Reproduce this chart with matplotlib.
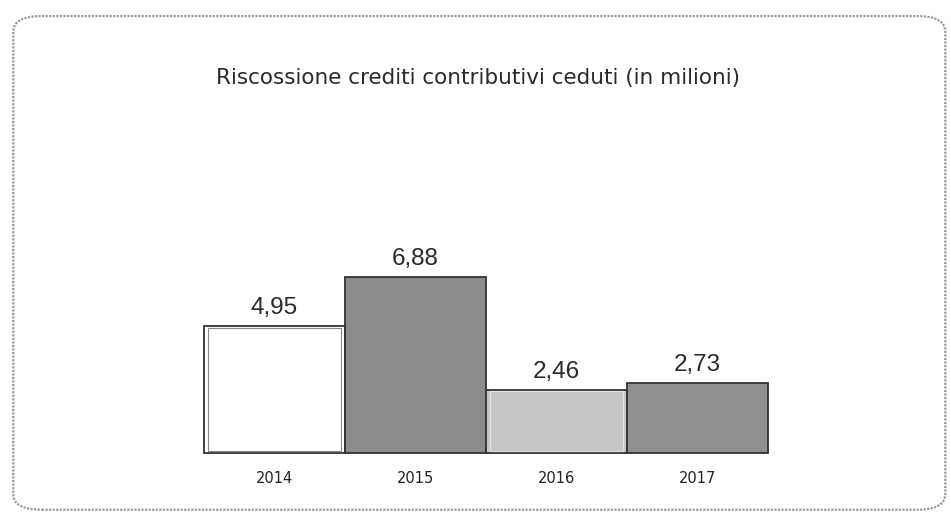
import matplotlib.pyplot as plt
from matplotlib.patches import FancyBboxPatch

anni = ['2014', '2015', '2016', '2017']
valori = [4.95, 6.88, 2.46, 2.73]
etichette = ['4,95', '6,88', '2,46', '2,73']
colori = ['#ffffff', '#8c8c8c', '#c6c6c6', '#8f8f8f']

fig = plt.figure(figsize=(9.51, 5.18), dpi=100)
fig.patch.set_facecolor('white')

# cornice arrotondata
cornice = FancyBboxPatch((0.014, 0.016), 0.98, 0.953,
                         boxstyle='round,pad=0,rounding_size=0.03',
                         transform=fig.transFigure, fill=False,
                         edgecolor='#9a9a9a', linewidth=1.6, linestyle=(0, (1, 0.6)))
fig.patches.append(cornice)

fig.text(0.503, 0.849, 'Riscossione crediti contributivi ceduti (in milioni)',
         ha='center', va='center', fontsize=15.5, color='#2a2a2a', family='DejaVu Sans')

ax = fig.add_axes([0.2145, 0.1255, 0.593, 0.396])
x = range(len(anni))
barre = ax.bar(x, valori, width=1.0, color=colori, edgecolor='#333333', linewidth=1.3)
for b in barre:
    b.set_clip_on(False)
# bordo interno (effetto rilievo)
ax.bar([0, 2], [valori[0] - 0.12, valori[2] - 0.12], width=0.94, bottom=0.06,
       color='none', edgecolor=['#888888', '#e2e2e2'], linewidth=0.8)

for i, v in enumerate(valori):
    ax.text(i, v + 0.27, etichette[i], ha='center', va='bottom', fontsize=17.5,
            color='#2a2a2a', family='Liberation Sans')

ax.set_xlim(-0.5, 3.5)
ax.set_ylim(0, 8)
ax.set_xticks(list(x))
ax.set_xticklabels(anni, fontsize=10.5, color='#222222', family='DejaVu Sans')
ax.tick_params(axis='x', length=0, pad=13)
ax.set_yticks([])
for s in ax.spines.values():
    s.set_visible(False)

plt.savefig('out.png', dpi=100)
